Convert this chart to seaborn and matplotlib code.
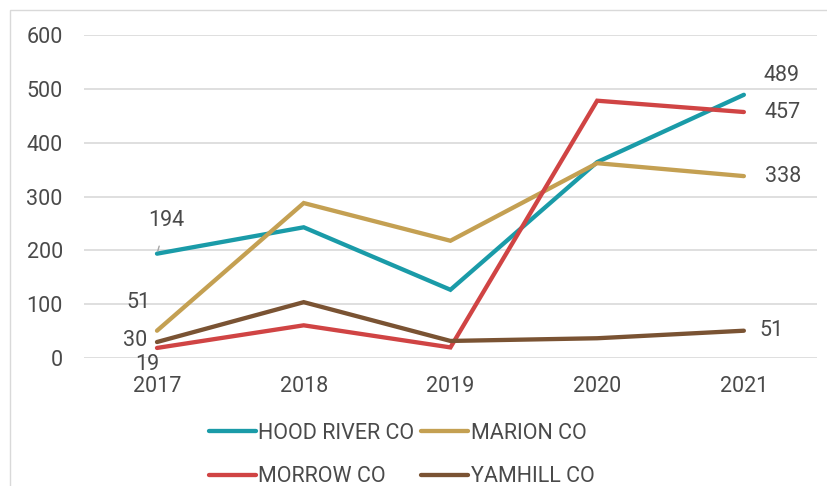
import matplotlib
matplotlib.use('Agg')
import matplotlib.pyplot as plt
import pandas as pd
import seaborn as sns
from matplotlib.patches import Rectangle

# values
years = ['2017', '2018', '2019', '2020', '2021']
hood_river = [194, 243, 127, 364, 489]
marion = [51, 288, 218, 362, 338]
morrow = [19, 61, 20, 478, 457]
yamhill = [30, 104, 32, 37, 51]

counties = ['HOOD RIVER CO', 'MARION CO', 'MORROW CO', 'YAMHILL CO']
colors = ['#1A9BA8', '#C4A052', '#D04444', '#7A5333']

df = pd.DataFrame({
    'year': years * 4,
    'value': hood_river + marion + morrow + yamhill,
    'county': [c for c in counties for _ in years],
})

sns.set_theme(style='white')
plt.rcParams['font.family'] = ['Roboto', 'DejaVu Sans']
text_col = '#4A4A4A'

fig = plt.figure(figsize=(8.28, 4.86), dpi=100)
ax = fig.add_axes([0.101, 0.263, 0.886, 0.665])

sns.lineplot(data=df, x='year', y='value', hue='county', palette=colors,
             linewidth=3.1, ax=ax, sort=False)
for ln in ax.lines:
    ln.set_solid_capstyle('round')
    ln.set_solid_joinstyle('miter')

ax.set_xlim(-0.5, 4.5)
ax.set_ylim(0, 600)
ax.set_yticks(range(0, 601, 100))
ax.yaxis.grid(True, color='#D9D9D9', linewidth=1.2)
ax.set_axisbelow(True)
for s in ax.spines.values():
    s.set_visible(False)
ax.set_xlabel('')
ax.set_ylabel('')
ax.tick_params(axis='both', length=0, labelsize=15.5, labelcolor=text_col)
ax.tick_params(axis='y', pad=15)
ax.tick_params(axis='x', pad=13)

# data labels
lab = dict(fontsize=15.5, color=text_col, textcoords='offset points')
ax.annotate(str(hood_river[0]), xy=(0, hood_river[0]), xytext=(7, 24),
            ha='center', va='center',
            arrowprops=dict(arrowstyle='-', color='#A6A6A6', lw=1, shrinkA=9, shrinkB=2), **lab)
ax.annotate(str(marion[0]), xy=(0, marion[0]), xytext=(-13, 20), ha='center', va='center', **lab)
ax.annotate(str(yamhill[0]), xy=(0, yamhill[0]), xytext=(-16, 1), ha='center', va='center', **lab)
ax.annotate(str(morrow[0]), xy=(0, morrow[0]), xytext=(-7, -12), ha='center', va='center', **lab)
ax.annotate(str(hood_river[4]), xy=(4, hood_river[4]), xytext=(27, 14), ha='center', va='center', **lab)
ax.annotate(str(morrow[4]), xy=(4, morrow[4]), xytext=(28, 0), ha='center', va='center', **lab)
ax.annotate(str(marion[4]), xy=(4, marion[4]), xytext=(28, 0), ha='center', va='center', **lab)
ax.annotate(str(yamhill[4]), xy=(4, yamhill[4]), xytext=(20, 0), ha='center', va='center', **lab)

# legend: rows HOOD/MARION, MORROW/YAMHILL
handles, labels = ax.get_legend_handles_labels()
ax.get_legend().remove()
order = [0, 2, 1, 3]
leg = fig.legend([handles[i] for i in order], [labels[i] for i in order],
                 loc='center', bbox_to_anchor=(0.485, 0.064), ncol=2, frameon=False,
                 fontsize=15.5, handlelength=2.2, handletextpad=0.1, columnspacing=0.3,
                 labelspacing=1.05, borderpad=0.2)
for t in leg.get_texts():
    t.set_color(text_col)
for h in leg.get_lines():
    h.set_linewidth(3.1)
    h.set_solid_capstyle('round')

# light frame around the chart area
fig.patches.append(Rectangle((10 / 828, -0.1), 1.0, 1.1 - 10 / 486, transform=fig.transFigure,
                             fill=False, edgecolor='#D9D9D9', linewidth=1))

fig.savefig('out.png', dpi=100)
